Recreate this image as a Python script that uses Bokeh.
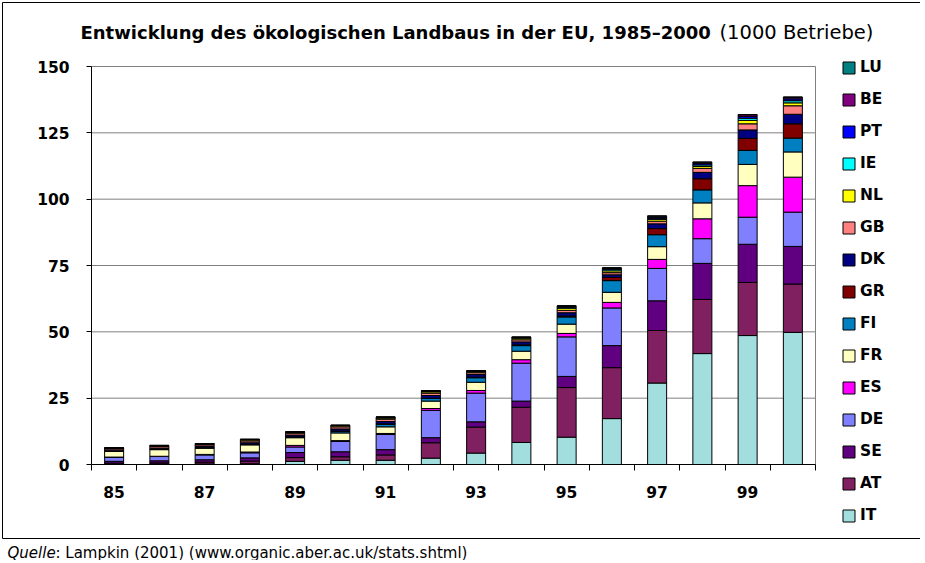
from bokeh.plotting import figure
from bokeh.models import (ColumnDataSource, Range1d, FixedTicker, Legend, LegendItem, Label,
                          LinearAxis, BoxAnnotation)
from bokeh.embed import file_html
from bokeh.resources import INLINE

years = ["85", "86", "87", "88", "89", "90", "91", "92", "93", "94", "95", "96", "97", "98", "99", "2000"]
tick_labels = ["85", "87", "89", "91", "93", "95", "97", "99"]
y_ticks = [0, 25, 50, 75, 100, 125, 150]

# 1000 Betriebe, bottom (IT) to top (LU)
IT = [0.2, 0.2, 0.2, 0.3, 1.2, 1.6, 1.6, 2.4, 4.3, 8.3, 10.3, 17.3, 30.7, 41.8, 48.6, 49.8]
AT = [0.3, 0.4, 0.7, 1.0, 1.4, 1.3, 2.0, 5.8, 9.8, 13.3, 18.7, 19.2, 19.8, 20.4, 20.0, 18.2]
SE = [0.7, 0.8, 0.9, 1.2, 1.9, 1.9, 2.0, 1.9, 2.0, 2.3, 4.2, 8.3, 11.2, 13.6, 14.4, 14.2]
DE = [1.6, 1.6, 1.8, 1.9, 2.1, 3.9, 5.7, 10.3, 10.8, 14.3, 14.9, 14.2, 12.2, 9.3, 10.2, 12.9]
ES = [0.0, 0.1, 0.2, 0.3, 0.6, 0.3, 0.4, 0.7, 1.0, 1.3, 1.3, 2.1, 3.4, 7.5, 11.9, 13.2]
FR = [2.2, 2.5, 2.4, 2.7, 2.9, 2.9, 2.5, 2.8, 3.1, 3.2, 3.5, 3.8, 4.8, 6.0, 8.0, 9.5]
FI = [0.0, 0.1, 0.1, 0.2, 0.3, 0.6, 1.0, 1.0, 1.7, 2.1, 2.7, 4.4, 4.5, 4.9, 5.3, 5.2]
GR = [0.0, 0.0, 0.0, 0.0, 0.0, 0.1, 0.1, 0.1, 0.2, 0.3, 0.4, 1.2, 2.3, 4.2, 4.5, 5.4]
DK = [0.4, 0.4, 0.5, 0.6, 0.7, 0.8, 0.9, 1.0, 1.0, 1.1, 1.2, 1.0, 1.8, 2.4, 3.2, 3.6]
GB = [0.5, 0.6, 0.6, 0.7, 0.7, 0.8, 0.9, 0.9, 0.7, 0.8, 0.9, 0.8, 1.0, 1.5, 2.3, 3.2]
NL = [0.2, 0.3, 0.3, 0.4, 0.3, 0.4, 0.4, 0.5, 0.4, 0.6, 0.8, 0.7, 0.7, 0.7, 1.3, 1.1]
IE = [0.1, 0.1, 0.1, 0.1, 0.1, 0.1, 0.2, 0.2, 0.1, 0.2, 0.4, 0.6, 0.4, 0.6, 0.8, 0.8]
PT = [0.0, 0.0, 0.0, 0.0, 0.0, 0.0, 0.1, 0.1, 0.1, 0.1, 0.2, 0.2, 0.4, 0.5, 0.7, 0.7]
BE = [0.1, 0.1, 0.1, 0.1, 0.1, 0.1, 0.1, 0.1, 0.1, 0.1, 0.3, 0.3, 0.4, 0.5, 0.6, 0.6]
LU = [0.0, 0.0, 0.0, 0.0, 0.0, 0.0, 0.0, 0.0, 0.0, 0.0, 0.0, 0.0, 0.1, 0.1, 0.1, 0.1]

countries = ["IT", "AT", "SE", "DE", "ES", "FR", "FI", "GR", "DK", "GB", "NL", "IE", "PT", "BE", "LU"]
series = [IT, AT, SE, DE, ES, FR, FI, GR, DK, GB, NL, IE, PT, BE, LU]
colors = ["#A3DEDF", "#802060", "#600080", "#8080FF", "#FF00FF", "#FFFFC0", "#0080C0",
          "#800000", "#000080", "#FF8080", "#FFFF00", "#00FFFF", "#0000FF", "#800080", "#008080"]

FONT = "DejaVu Sans"

# ---- layout (pixels) ----
W, H = 920, 560
PL, PR, PT_, PB = 91, 815, 66, 464          # plot area edges inside the figure
n = len(years)
ymax = y_ticks[-1]
xpx = (PR - PL) / n
ypx = (PB - PT_) / ymax
x_range = Range1d(-PL / xpx, n + (W - PR) / xpx)
y_range = Range1d(-(H - PB) / ypx, ymax + PT_ / ypx)

data = {"x": [i + 0.5 for i in range(n)]}
for c, s in zip(countries, series):
    data[c] = s
source = ColumnDataSource(data)

p = figure(width=W, height=H, x_range=x_range, y_range=y_range,
           x_axis_type=None, y_axis_type=None,
           output_backend="svg", toolbar_location=None,
           min_border=0, min_border_left=0, min_border_right=0,
           min_border_top=0, min_border_bottom=0)
p.background_fill_color = "white"
p.border_fill_color = "white"
p.outline_line_color = None

# chart-area frame (top, left, bottom; right edge lies beyond the picture)
p.add_layout(BoxAnnotation(left=2, right=W + 20, top=H - 2, bottom=H - 538,
                           left_units="screen", right_units="screen",
                           top_units="screen", bottom_units="screen",
                           fill_color=None, fill_alpha=0,
                           line_color="black", line_width=1, line_alpha=1))

# grid lines and plot-area border (right side)
p.segment(x0=[0] * len(y_ticks[1:]), x1=[n] * len(y_ticks[1:]), y0=y_ticks[1:], y1=y_ticks[1:],
          line_color="#808080", line_width=1)
p.segment(x0=[n], x1=[n], y0=[0], y1=[ymax], line_color="#808080", line_width=1)

renderers = p.vbar_stack(countries, x="x", width=0.42, color=colors, source=source,
                         line_color="black", line_width=1)

# axes pinned to the plot area
tick_pos = [years.index(t) + 0.5 for t in tick_labels]
xaxis = LinearAxis(fixed_location=0, bounds=(0, n),
                   ticker=FixedTicker(ticks=tick_pos, minor_ticks=list(range(n + 1))))
xaxis.major_label_overrides = {pos: lab for pos, lab in zip(tick_pos, tick_labels)}
xaxis.major_tick_out = 0
xaxis.major_tick_in = 0
xaxis.minor_tick_out = 6
xaxis.minor_tick_in = 0
xaxis.minor_tick_line_color = "black"
xaxis.axis_line_color = "black"
xaxis.major_label_standoff = 15

yaxis = LinearAxis(fixed_location=0, bounds=(0, ymax), ticker=FixedTicker(ticks=y_ticks))
yaxis.major_tick_out = 5
yaxis.major_tick_in = 0
yaxis.minor_tick_line_color = None
yaxis.major_tick_line_color = "black"
yaxis.axis_line_color = "black"
yaxis.major_label_standoff = 17

for ax in (xaxis, yaxis):
    ax.major_label_text_font = FONT
    ax.major_label_text_font_style = "bold"
    ax.major_label_text_font_size = "15.5px"
    ax.major_label_text_color = "black"
p.add_layout(xaxis, "below")
p.add_layout(yaxis, "left")

# legend (reversed: LU on top)
items = [LegendItem(label=c, renderers=[r]) for c, r in zip(countries, renderers)][::-1]
legend = Legend(items=items, location=(841, H - 525), glyph_width=15, glyph_height=15,
                label_height=20, spacing=12, padding=0, margin=0,
                border_line_color=None, background_fill_alpha=0,
                label_text_font=FONT, label_text_font_style="bold",
                label_text_color="black",
                label_text_font_size="15.5px", label_standoff=4)
p.add_layout(legend)

# title
p.add_layout(Label(x=80, y=H - 32, x_units="screen", y_units="screen",
                   text="Entwicklung des ökologischen Landbaus in der EU, 1985–2000",
                   text_font=FONT, text_font_style="bold", text_font_size="18px",
                   text_baseline="alphabetic", text_align="left", text_color="black"))
p.add_layout(Label(x=719, y=H - 32, x_units="screen", y_units="screen",
                   text="(1000 Betriebe)",
                   text_font=FONT, text_font_style="normal", text_font_size="19.5px",
                   text_baseline="alphabetic", text_align="left", text_color="black"))

# source line
p.add_layout(Label(x=7, y=H - 552, x_units="screen", y_units="screen",
                   text="Quelle", text_font=FONT, text_font_style="italic",
                   text_font_size="15px", text_baseline="alphabetic", text_color="black"))
p.add_layout(Label(x=55, y=H - 552, x_units="screen", y_units="screen",
                   text=": Lampkin (2001) (www.organic.aber.ac.uk/stats.shtml)",
                   text_font=FONT, text_font_style="normal",
                   text_font_size="15px", text_baseline="alphabetic", text_color="black"))

open("out.html", "w").write(file_html(p, INLINE))
